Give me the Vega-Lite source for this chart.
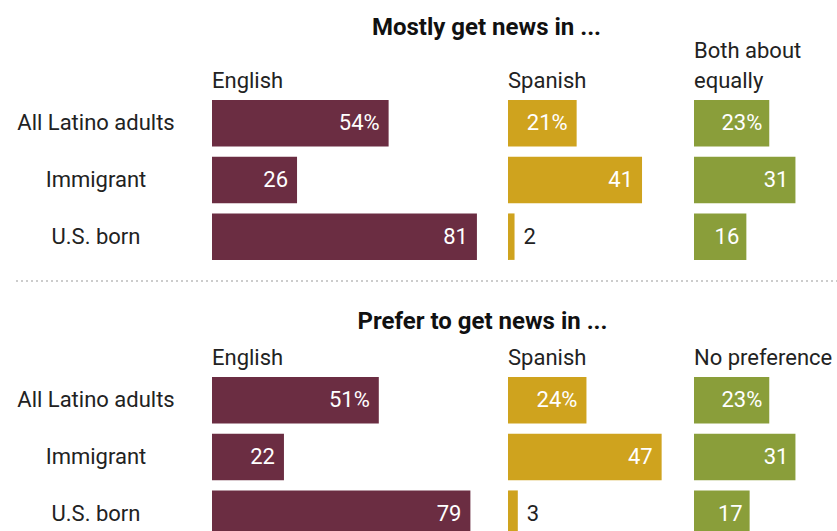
{
  "$schema": "https://vega.github.io/schema/vega-lite/v6.json",
  "padding": {"left": 13, "top": 16, "right": 0, "bottom": 0},
  "background": "white",
  "config": {
    "view": {"stroke": null},
    "font": "Roboto",
    "title": {"anchor": "start", "frame": "group", "fontSize": 22, "fontWeight": "normal", "font": "Roboto", "color": "#222", "offset": 2, "lineHeight": 30},
    "text": {"font": "Roboto", "fontSize": 22}
  },
  "data": {"values": [
    {"section": "mostly", "group": "All Latino adults", "col": "English", "value": 54, "label": "54%"},
    {"section": "mostly", "group": "Immigrant", "col": "English", "value": 26, "label": "26"},
    {"section": "mostly", "group": "U.S. born", "col": "English", "value": 81, "label": "81"},
    {"section": "mostly", "group": "All Latino adults", "col": "Spanish", "value": 21, "label": "21%"},
    {"section": "mostly", "group": "Immigrant", "col": "Spanish", "value": 41, "label": "41"},
    {"section": "mostly", "group": "U.S. born", "col": "Spanish", "value": 2, "label": "2"},
    {"section": "mostly", "group": "All Latino adults", "col": "Other", "value": 23, "label": "23%"},
    {"section": "mostly", "group": "Immigrant", "col": "Other", "value": 31, "label": "31"},
    {"section": "mostly", "group": "U.S. born", "col": "Other", "value": 16, "label": "16"},
    {"section": "prefer", "group": "All Latino adults", "col": "English", "value": 51, "label": "51%"},
    {"section": "prefer", "group": "Immigrant", "col": "English", "value": 22, "label": "22"},
    {"section": "prefer", "group": "U.S. born", "col": "English", "value": 79, "label": "79"},
    {"section": "prefer", "group": "All Latino adults", "col": "Spanish", "value": 24, "label": "24%"},
    {"section": "prefer", "group": "Immigrant", "col": "Spanish", "value": 47, "label": "47"},
    {"section": "prefer", "group": "U.S. born", "col": "Spanish", "value": 3, "label": "3"},
    {"section": "prefer", "group": "All Latino adults", "col": "Other", "value": 23, "label": "23%"},
    {"section": "prefer", "group": "Immigrant", "col": "Other", "value": 31, "label": "31"},
    {"section": "prefer", "group": "U.S. born", "col": "Other", "value": 17, "label": "17"}
  ]},
  "spacing": 15,
  "vconcat": [
    {
      "title": {"text": "Mostly get news in ...", "anchor": "middle", "frame": "bounds", "fontWeight": "bold", "fontSize": 24, "color": "#111", "offset": 0, "dx": 61},
      "spacing": 0,
      "hconcat": [
        {
          "width": 198, "height": 170,
          "transform": [{"filter": "datum.section == 'mostly' && datum.col == 'English'"}],
          "mark": {"type": "text", "align": "center", "dx": -17, "color": "#222"},
          "encoding": {
            "y": {"field": "group", "type": "nominal", "sort": ["All Latino adults", "Immigrant", "U.S. born"], "scale": {"paddingInner": 0.18, "paddingOuter": 0.09}, "axis": null},
            "text": {"field": "group"}
          }
        },
        {
          "width": 296, "height": 170,
          "title": "English",
          "transform": [{"filter": "datum.section == 'mostly' && datum.col == 'English'"}],
          "encoding": {
            "y": {"field": "group", "type": "nominal", "sort": ["All Latino adults", "Immigrant", "U.S. born"], "scale": {"paddingInner": 0.18, "paddingOuter": 0.09}, "axis": null},
            "x": {"field": "value", "type": "quantitative", "scale": {"domain": [0, 90.5]}, "axis": null}
          },
          "layer": [
            {"mark": {"type": "bar", "color": "#6B2D42"}},
            {"transform": [{"filter": "datum.value >= 10"}], "mark": {"type": "text", "align": "right", "dx": -9, "color": "white"}, "encoding": {"text": {"field": "label"}}},
            {"transform": [{"filter": "datum.value < 10"}], "mark": {"type": "text", "align": "left", "dx": 9, "color": "#222"}, "encoding": {"text": {"field": "label"}}}
          ]
        },
        {
          "width": 186, "height": 170,
          "title": "Spanish",
          "transform": [{"filter": "datum.section == 'mostly' && datum.col == 'Spanish'"}],
          "encoding": {
            "y": {"field": "group", "type": "nominal", "sort": ["All Latino adults", "Immigrant", "U.S. born"], "scale": {"paddingInner": 0.18, "paddingOuter": 0.09}, "axis": null},
            "x": {"field": "value", "type": "quantitative", "scale": {"domain": [0, 56.9]}, "axis": null}
          },
          "layer": [
            {"mark": {"type": "bar", "color": "#CFA31E"}},
            {"transform": [{"filter": "datum.value >= 10"}], "mark": {"type": "text", "align": "right", "dx": -9, "color": "white"}, "encoding": {"text": {"field": "label"}}},
            {"transform": [{"filter": "datum.value < 10"}], "mark": {"type": "text", "align": "left", "dx": 9, "color": "#222"}, "encoding": {"text": {"field": "label"}}}
          ]
        },
        {
          "width": 143, "height": 170,
          "title": {"text": ["Both about", "equally"]},
          "transform": [{"filter": "datum.section == 'mostly' && datum.col == 'Other'"}],
          "encoding": {
            "y": {"field": "group", "type": "nominal", "sort": ["All Latino adults", "Immigrant", "U.S. born"], "scale": {"paddingInner": 0.18, "paddingOuter": 0.09}, "axis": null},
            "x": {"field": "value", "type": "quantitative", "scale": {"domain": [0, 43.7]}, "axis": null}
          },
          "layer": [
            {"mark": {"type": "bar", "color": "#8A9E3A"}},
            {"transform": [{"filter": "datum.value >= 10"}], "mark": {"type": "text", "align": "right", "dx": -7, "color": "white"}, "encoding": {"text": {"field": "label"}}},
            {"transform": [{"filter": "datum.value < 10"}], "mark": {"type": "text", "align": "left", "dx": 9, "color": "#222"}, "encoding": {"text": {"field": "label"}}}
          ]
        }
      ]
    },
    {
      "width": 824, "height": 14,
      "data": {"values": [{}]},
      "mark": {"type": "rule", "strokeDash": [2, 3], "color": "#999", "strokeWidth": 1},
      "encoding": {"y": {"value": 0}}
    },
    {
      "title": {"text": "Prefer to get news in ...", "anchor": "middle", "frame": "bounds", "fontWeight": "bold", "fontSize": 24, "color": "#111", "offset": 13, "dx": 57},
      "spacing": 0,
      "hconcat": [
        {
          "width": 198, "height": 170,
          "transform": [{"filter": "datum.section == 'prefer' && datum.col == 'English'"}],
          "mark": {"type": "text", "align": "center", "dx": -17, "color": "#222"},
          "encoding": {
            "y": {"field": "group", "type": "nominal", "sort": ["All Latino adults", "Immigrant", "U.S. born"], "scale": {"paddingInner": 0.18, "paddingOuter": 0.09}, "axis": null},
            "text": {"field": "group"}
          }
        },
        {
          "width": 296, "height": 170,
          "title": "English",
          "transform": [{"filter": "datum.section == 'prefer' && datum.col == 'English'"}],
          "encoding": {
            "y": {"field": "group", "type": "nominal", "sort": ["All Latino adults", "Immigrant", "U.S. born"], "scale": {"paddingInner": 0.18, "paddingOuter": 0.09}, "axis": null},
            "x": {"field": "value", "type": "quantitative", "scale": {"domain": [0, 90.5]}, "axis": null}
          },
          "layer": [
            {"mark": {"type": "bar", "color": "#6B2D42"}},
            {"transform": [{"filter": "datum.value >= 10"}], "mark": {"type": "text", "align": "right", "dx": -9, "color": "white"}, "encoding": {"text": {"field": "label"}}},
            {"transform": [{"filter": "datum.value < 10"}], "mark": {"type": "text", "align": "left", "dx": 9, "color": "#222"}, "encoding": {"text": {"field": "label"}}}
          ]
        },
        {
          "width": 186, "height": 170,
          "title": "Spanish",
          "transform": [{"filter": "datum.section == 'prefer' && datum.col == 'Spanish'"}],
          "encoding": {
            "y": {"field": "group", "type": "nominal", "sort": ["All Latino adults", "Immigrant", "U.S. born"], "scale": {"paddingInner": 0.18, "paddingOuter": 0.09}, "axis": null},
            "x": {"field": "value", "type": "quantitative", "scale": {"domain": [0, 56.9]}, "axis": null}
          },
          "layer": [
            {"mark": {"type": "bar", "color": "#CFA31E"}},
            {"transform": [{"filter": "datum.value >= 10"}], "mark": {"type": "text", "align": "right", "dx": -9, "color": "white"}, "encoding": {"text": {"field": "label"}}},
            {"transform": [{"filter": "datum.value < 10"}], "mark": {"type": "text", "align": "left", "dx": 9, "color": "#222"}, "encoding": {"text": {"field": "label"}}}
          ]
        },
        {
          "width": 143, "height": 170,
          "title": "No preference",
          "transform": [{"filter": "datum.section == 'prefer' && datum.col == 'Other'"}],
          "encoding": {
            "y": {"field": "group", "type": "nominal", "sort": ["All Latino adults", "Immigrant", "U.S. born"], "scale": {"paddingInner": 0.18, "paddingOuter": 0.09}, "axis": null},
            "x": {"field": "value", "type": "quantitative", "scale": {"domain": [0, 43.7]}, "axis": null}
          },
          "layer": [
            {"mark": {"type": "bar", "color": "#8A9E3A"}},
            {"transform": [{"filter": "datum.value >= 10"}], "mark": {"type": "text", "align": "right", "dx": -7, "color": "white"}, "encoding": {"text": {"field": "label"}}},
            {"transform": [{"filter": "datum.value < 10"}], "mark": {"type": "text", "align": "left", "dx": 9, "color": "#222"}, "encoding": {"text": {"field": "label"}}}
          ]
        }
      ]
    }
  ]
}
